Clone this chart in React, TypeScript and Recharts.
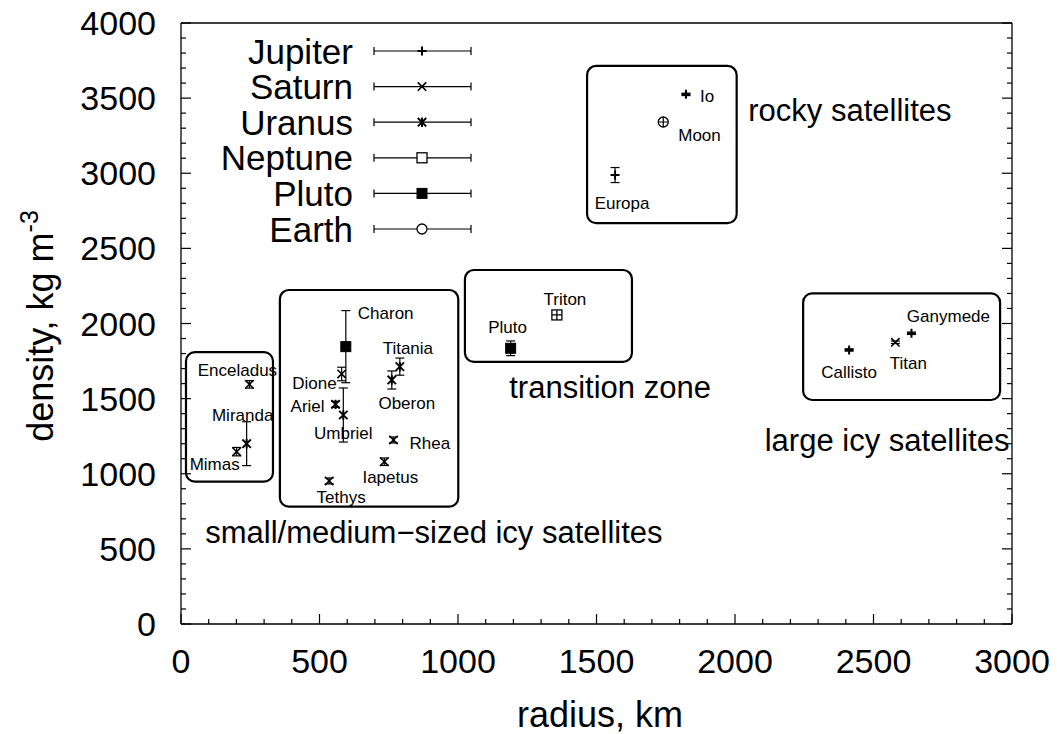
import React from 'react'
import { ScatterChart, Scatter, XAxis, YAxis, ErrorBar, ReferenceArea, ReferenceDot, Legend } from 'recharts'

const W = 1057
const H = 734
const FONT = '"Liberation Sans", Arial, Helvetica, sans-serif'
const AX = { stroke: '#000', strokeWidth: 1.3 }

// radius (km), density (kg m^-3), error bar (+/-)
const jupiter = [
  { name: 'Io', r: 1823, d: 3525, err: 8 },
  { name: 'Europa', r: 1567, d: 2988, err: 50 },
  { name: 'Ganymede', r: 2637, d: 1935, err: 8 },
  { name: 'Callisto', r: 2412, d: 1824, err: 8 },
]
const saturn = [
  { name: 'Mimas', r: 201, d: 1147, err: 28 },
  { name: 'Enceladus', r: 247, d: 1595, err: 25 },
  { name: 'Tethys', r: 535, d: 952, err: 20 },
  { name: 'Dione', r: 580, d: 1664, err: 45 },
  { name: 'Rhea', r: 767, d: 1225, err: 20 },
  { name: 'Titan', r: 2579, d: 1875, err: 8 },
  { name: 'Iapetus', r: 734, d: 1080, err: 25 },
]
const uranus = [
  { name: 'Miranda', r: 237, d: 1200, err: 146 },
  { name: 'Ariel', r: 558, d: 1462, err: 20 },
  { name: 'Umbriel', r: 586, d: 1391, err: 180 },
  { name: 'Titania', r: 790, d: 1713, err: 57 },
  { name: 'Oberon', r: 761, d: 1624, err: 60 },
]
const neptune = [{ name: 'Triton', r: 1357, d: 2057, err: 25 }]
const pluto = [
  { name: 'Pluto', r: 1190, d: 1835, err: 49 },
  { name: 'Charon', r: 595, d: 1846, err: 240 },
]
const earth = [{ name: 'Moon', r: 1741, d: 3341, err: 8 }]

// group boxes (data coords)
const boxX1 = [18, 357, 1025, 1466, 2246]
const boxX2 = [332, 1001, 1628, 2006, 2957]
const boxY1 = [947, 781, 1745, 2668, 1491]
const boxY2 = [1810, 2223, 2356, 3714, 2200]

const groupNames = ['rocky satellites', 'transition zone', 'large icy satellites', 'small/medium\u2212sized icy satellites']
const groupX = [2415, 1549, 2549, 913]
const groupY = [3421, 1579, 1225, 612]

const xMajor = [0, 500, 1000, 1500, 2000, 2500, 3000]
const yMajor = [0, 500, 1000, 1500, 2000, 2500, 3000, 3500, 4000]
const xTicks = Array.from({ length: 31 }, (_, i) => i * 100)
const yTicks = Array.from({ length: 41 }, (_, i) => i * 100)

// where each point's name sits relative to its marker
const LABEL_POS: Record<string, [number, number, string]> = {
  Io: [14, 2, 'start'],
  Moon: [15, 13, 'start'],
  Europa: [7, 28, 'middle'],
  Enceladus: [-12, -14, 'middle'],
  Miranda: [-4, -29, 'middle'],
  Mimas: [-22, 12, 'middle'],
  Charon: [12, -34, 'start'],
  Titania: [8, -19, 'middle'],
  Dione: [-5, 9, 'end'],
  Ariel: [-11, 2, 'end'],
  Oberon: [15, 23, 'middle'],
  Umbriel: [0, 18, 'middle'],
  Rhea: [16, 3, 'start'],
  Iapetus: [6, 15, 'middle'],
  Tethys: [12, 16, 'middle'],
  Pluto: [-3, -21, 'middle'],
  Triton: [8, -16, 'middle'],
  Callisto: [0, 22, 'middle'],
  Titan: [13, 21, 'middle'],
  Ganymede: [37, -17, 'middle'],
}

const KIND: Record<string, string> = {
  Jupiter: 'plus', Saturn: 'cross', Uranus: 'star', Neptune: 'box', Pluto: 'fbox', Earth: 'circle',
}

const series = [
  { name: 'Jupiter', data: jupiter },
  { name: 'Saturn', data: saturn },
  { name: 'Uranus', data: uranus },
  { name: 'Neptune', data: neptune },
  { name: 'Pluto', data: pluto },
  { name: 'Earth', data: earth },
]

function Marker({ kind, cx, cy, inner }: { kind: string; cx: number; cy: number; inner?: boolean }) {
  const s = 4.2
  const st = { stroke: '#000', strokeWidth: 1.6, fill: 'none' }
  if (kind === 'plus')
    return <path d={`M${cx - 4.5},${cy}H${cx + 4.5}M${cx},${cy - 4.5}V${cy + 4.5}`} {...st} strokeWidth={2} />
  if (kind === 'cross')
    return <path d={`M${cx - s},${cy - s}L${cx + s},${cy + s}M${cx - s},${cy + s}L${cx + s},${cy - s}`} {...st} />
  if (kind === 'star')
    return <path d={`M${cx - s},${cy - s}L${cx + s},${cy + s}M${cx - s},${cy + s}L${cx + s},${cy - s}M${cx},${cy - s - 0.5}V${cy + s + 0.5}`} {...st} strokeWidth={1.9} />
  if (kind === 'box')
    return (
      <g>
        <rect x={cx - 5} y={cy - 5} width={10} height={10} fill="#fff" stroke="#000" strokeWidth={1.3} />
        {inner && <path d={`M${cx - 5},${cy}H${cx + 5}M${cx},${cy - 5}V${cy + 5}`} stroke="#000" strokeWidth={1.3} />}
      </g>
    )
  if (kind === 'fbox') return <rect x={cx - 5} y={cy - 5} width={10} height={10} fill="#000" stroke="#000" />
  return (
    <g>
      <circle cx={cx} cy={cy} r={5} fill="#fff" stroke="#000" strokeWidth={1.3} />
      {inner && <path d={`M${cx - 5},${cy}H${cx + 5}M${cx},${cy - 5}V${cy + 5}`} stroke="#000" strokeWidth={1.2} />}
    </g>
  )
}

function pointShape(kind: string) {
  return (p: any) => {
    const name = p.payload?.name ?? p.name
    const pos = LABEL_POS[name] || [10, 0, 'start']
    return (
      <g>
        <Marker kind={kind} cx={p.cx} cy={p.cy} inner />
        <text x={p.cx + pos[0]} y={p.cy + pos[1] + 6} textAnchor={pos[2] as any} fontSize={17} fontFamily={FONT} fill="#000">
          {name}
        </text>
      </g>
    )
  }
}

function BottomTick({ x, y, payload }: any) {
  const v = payload.value
  const major = xMajor.includes(v)
  return (
    <g>
      <line x1={x} x2={x} y1={y} y2={y - (major ? 10 : 5)} stroke="#000" strokeWidth={1.2} />
      {major && (
        <text x={x} y={y + 49} textAnchor="middle" fontSize={34} fontFamily={FONT} fill="#000">{v}</text>
      )}
    </g>
  )
}

function TopTick({ x, y, payload }: any) {
  const major = xMajor.includes(payload.value)
  return <line x1={x} x2={x} y1={y} y2={y + (major ? 10 : 5)} stroke="#000" strokeWidth={1.2} />
}

function LeftTick({ x, y, payload }: any) {
  const v = payload.value
  const major = yMajor.includes(v)
  return (
    <g>
      <line x1={x} x2={x + (major ? 10 : 5)} y1={y} y2={y} stroke="#000" strokeWidth={1.2} />
      {major && (
        <text x={x - 25} y={y + 12} textAnchor="end" fontSize={34} fontFamily={FONT} fill="#000">{v}</text>
      )}
    </g>
  )
}

function RightTick({ x, y, payload }: any) {
  const major = yMajor.includes(payload.value)
  return <line x1={x} x2={x - (major ? 10 : 5)} y1={y} y2={y} stroke="#000" strokeWidth={1.2} />
}

function XTitle() {
  return (
    <text x={600} y={727} textAnchor="middle" fontSize={36} fontFamily={FONT} fill="#000">radius, km</text>
  )
}

function YTitle() {
  return (
    <text transform="translate(53,326) rotate(-90)" textAnchor="middle" fontSize={36} fontFamily={FONT} fill="#000">
      density, kg m<tspan dy={-15} fontSize={25}>-3</tspan>
    </text>
  )
}

function LegendBox(props: any) {
  const got: string[] = (props.payload || []).map((e: any) => e.value)
  const names = series.map(s => s.name).filter(n => got.length === 0 || got.includes(n))
  return (
    <svg width={300} height={220} style={{ display: 'block', overflow: 'visible' }}>
      {names.map((name, i) => {
        const y = 26 + i * 35.6
        return (
          <g key={name}>
            <text x={173} y={y + 12.5} textAnchor="end" fontSize={35} fontFamily={FONT} fill="#000">{name}</text>
            <path d={`M194,${y}H291M194,${y - 4}V${y + 4}M291,${y - 4}V${y + 4}`} stroke="#000" strokeWidth={1.2} />
            <Marker kind={KIND[name]} cx={242} cy={y} />
          </g>
        )
      })}
    </svg>
  )
}

const boxShape = (p: any) => (
  <rect x={p.x} y={p.y} width={p.width} height={p.height} rx={9} ry={9} fill="none" stroke="#000" strokeWidth={2.2} />
)

export default function App() {
  return (
    <div style={{ position: 'absolute', left: 0, top: 0, width: W, height: H, background: '#fff', fontFamily: FONT }}>
      <ScatterChart width={W} height={H} margin={{ top: 0, right: 0, bottom: 0, left: 0 }}>
        <XAxis dataKey="r" type="number" domain={[0, 3000]} ticks={xTicks} interval={0} height={110}
          tickSize={0} tickMargin={0} tickLine={false} tick={<BottomTick />} axisLine={AX} allowDataOverflow label={<XTitle />} />
        <XAxis xAxisId="top" orientation="top" type="number" domain={[0, 3000]} ticks={xTicks} interval={0} height={23}
          tickSize={0} tickMargin={0} tickLine={false} tick={<TopTick />} axisLine={AX} allowDataOverflow />
        <YAxis dataKey="d" type="number" domain={[0, 4000]} ticks={yTicks} interval={0} width={181}
          tickSize={0} tickMargin={0} tickLine={false} tick={<LeftTick />} axisLine={AX} allowDataOverflow label={<YTitle />} />
        <YAxis yAxisId="right" orientation="right" type="number" domain={[0, 4000]} ticks={yTicks} interval={0} width={45}
          tickSize={0} tickMargin={0} tickLine={false} tick={<RightTick />} axisLine={AX} allowDataOverflow />

        {boxX1.map((x1, i) => (
          <ReferenceArea key={i} x1={x1} x2={boxX2[i]} y1={boxY1[i]} y2={boxY2[i]} ifOverflow="visible" shape={boxShape} />
        ))}
        {groupNames.map((g, i) => (
          <ReferenceDot key={g} x={groupX[i]} y={groupY[i]} r={0} ifOverflow="visible"
            shape={(p: any) => (
              <text x={p.cx} y={p.cy + 11} textAnchor="middle" fontSize={31} fontFamily={FONT} fill="#000">{g}</text>
            )} />
        ))}

        {series.map(s => (
          <Scatter key={s.name} name={s.name} data={s.data} fill="#000" isAnimationActive={false} shape={pointShape(KIND[s.name])}>
            <ErrorBar dataKey="err" direction="y" width={4.5} stroke="#000" strokeWidth={1.2} />
          </Scatter>
        ))}

        <Legend layout="vertical" align="center" verticalAlign="middle" content={<LegendBox />}
          wrapperStyle={{ left: 180, top: 25, width: 300, height: 220 }} />
      </ScatterChart>
    </div>
  )
}
